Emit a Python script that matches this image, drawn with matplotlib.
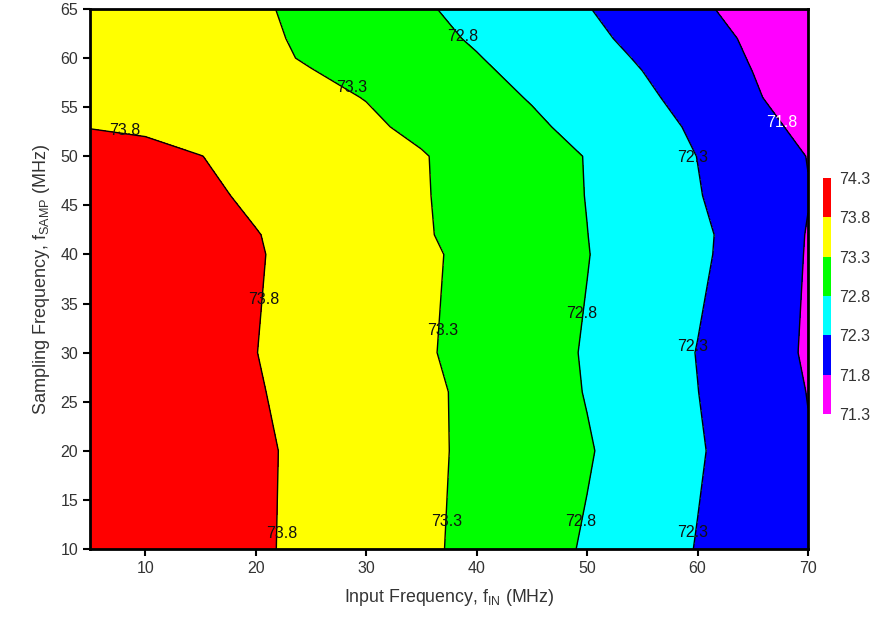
import numpy as np
import matplotlib
matplotlib.use("Agg")
import matplotlib.pyplot as plt

plt.rcParams['font.family'] = ['Liberation Sans', 'DejaVu Sans']
plt.rcParams['mathtext.default'] = 'regular'

# Input frequency (MHz) grid
f_in = [5, 10, 15, 20, 25, 30, 35, 40, 45, 50, 55, 60, 65, 70]
# Sampling frequency (MHz) grid
f_samp = [10, 20, 26, 30, 40, 42, 46, 50, 53, 56, 60, 62, 65]

row_10 = [74.200, 74.084, 73.969, 73.853, 73.711, 73.545, 73.380, 73.189, 72.975, 72.757, 72.519, 72.282, 72.052, 71.823]
row_20 = [74.200, 74.086, 73.971, 73.857, 73.718, 73.553, 73.389, 73.213, 73.023, 72.834, 72.593, 72.340, 72.084, 71.826]
row_26 = [74.200, 74.076, 73.952, 73.827, 73.684, 73.535, 73.386, 73.210, 72.997, 72.781, 72.543, 72.305, 72.053, 71.790]
row_30 = [74.200, 74.068, 73.937, 73.805, 73.655, 73.503, 73.352, 73.169, 72.971, 72.767, 72.529, 72.289, 72.020, 71.752]
row_40 = [74.200, 74.076, 73.952, 73.827, 73.680, 73.525, 73.371, 73.196, 73.004, 72.812, 72.596, 72.378, 72.095, 71.774]
row_42 = [74.200, 74.072, 73.944, 73.815, 73.660, 73.501, 73.341, 73.166, 72.985, 72.804, 72.594, 72.384, 72.105, 71.781]
row_46 = [74.200, 74.040, 73.880, 73.733, 73.598, 73.464, 73.330, 73.158, 72.975, 72.791, 72.557, 72.323, 72.070, 71.815]
row_50 = [74.000, 73.903, 73.806, 73.686, 73.566, 73.445, 73.324, 73.154, 72.972, 72.785, 72.540, 72.295, 72.042, 71.790]
row_53 = [73.786, 73.749, 73.651, 73.553, 73.455, 73.357, 73.226, 73.048, 72.871, 72.673, 72.462, 72.236, 71.958, 71.681]
row_56 = [73.720, 73.635, 73.550, 73.465, 73.380, 73.290, 73.118, 72.947, 72.773, 72.577, 72.382, 72.135, 71.851, 71.567]
row_60 = [73.625, 73.540, 73.455, 73.370, 73.273, 73.122, 72.972, 72.821, 72.641, 72.456, 72.261, 72.016, 71.771, 71.525]
row_62 = [73.599, 73.514, 73.429, 73.360, 73.250, 73.072, 72.917, 72.757, 72.576, 72.396, 72.193, 71.965, 71.736, 71.508]
row_65 = [73.584, 73.499, 73.414, 73.345, 73.220, 73.020, 72.851, 72.675, 72.496, 72.318, 72.097, 71.872, 71.647, 71.422]

levels = [71.3, 71.8, 72.3, 72.8, 73.3, 73.8, 74.3]
band_colors = ['#FF00FF', '#0000FF', '#00FFFF', '#00FF00', '#FFFF00', '#FF0000']

# contour label anchors (layout)
label_levels = [73.8, 73.8, 73.8, 73.3, 73.3, 73.3, 72.8, 72.8, 72.8, 72.3, 72.3, 72.3, 71.8]
label_pos = [(8.1, 52.6), (20.7, 35.4), (22.4, 11.6),
             (28.7, 57.0), (36.9, 32.3), (37.3, 12.8),
             (38.7, 62.2), (49.5, 34.0), (49.4, 12.8),
             (59.6, 49.9), (59.6, 30.6), (59.6, 11.7),
             (67.6, 53.4)]

Z = np.array([row_10, row_20, row_26, row_30, row_40, row_42, row_46,
              row_50, row_53, row_56, row_60, row_62, row_65])
X, Y = np.meshgrid(f_in, f_samp)

fig = plt.figure(figsize=(8.79, 6.18), dpi=100)
ax = fig.add_axes([0.1024, 0.1117, 0.8168, 0.8737])

cf = ax.contourf(X, Y, Z, levels=levels, colors=band_colors)
ax.contour(X, Y, Z, levels=levels[1:-1], colors='black', linewidths=1.0)

for lv, (px, py) in zip(label_levels, label_pos):
    ax.text(px, py, f"{lv:.1f}", ha='center', va='center', fontsize=11.5,
            color='white' if lv == 71.8 else '#111111')

ax.set_xlim(5, 70)
ax.set_ylim(10, 65)
ax.set_xticks([10, 20, 30, 40, 50, 60, 70])
ax.set_yticks([10, 15, 20, 25, 30, 35, 40, 45, 50, 55, 60, 65])
ax.tick_params(axis='both', direction='out', length=5, width=1.5,
               labelsize=11.5, labelcolor='#333333', color='black')
for s in ax.spines.values():
    s.set_linewidth(2)
    s.set_color('black')

ax.set_xlabel('Input Frequency, f$_{IN}$ (MHz)', fontsize=12.8, color='#333333', labelpad=8)
ax.set_ylabel('Sampling Frequency, f$_{SAMP}$ (MHz)', fontsize=13, color='#333333', labelpad=6)

cax = fig.add_axes([0.9363, 0.330, 0.0091, 0.382])
cb = fig.colorbar(cf, cax=cax, ticks=levels)
cb.outline.set_visible(False)
cb.ax.tick_params(length=0, labelsize=11.5, labelcolor='#333333', pad=6)
cb.ax.set_yticklabels([f"{v:.1f}" for v in levels])

fig.savefig('out.png', dpi=100)
